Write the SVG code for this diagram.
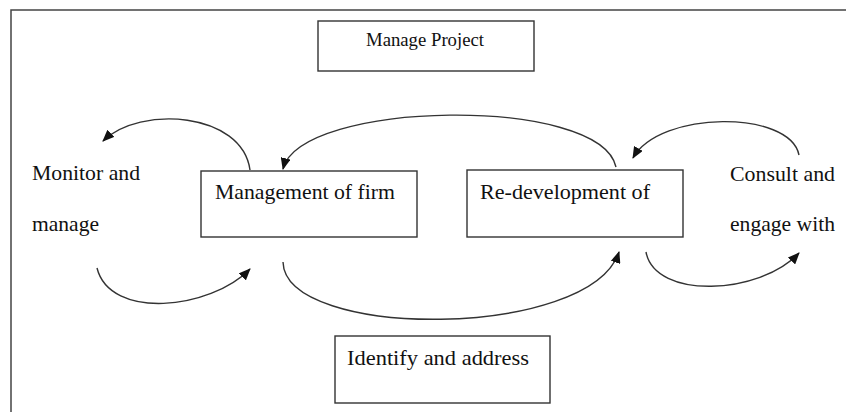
<svg xmlns="http://www.w3.org/2000/svg" width="846" height="412" viewBox="0 0 846 412">
<defs>
<style>
.box{fill:#fff;stroke:#333;stroke-width:1.4}
.frame{fill:none;stroke:#444;stroke-width:1.5}
.t{font-family:"Liberation Serif","Times New Roman",serif;font-size:22px;fill:#111}
.ts{font-size:19px}
.c{fill:none;stroke:#333;stroke-width:1.4;marker-end:url(#ah)}
</style>
<marker id="ah" markerUnits="userSpaceOnUse" markerWidth="12" markerHeight="10" viewBox="0 0 12 10" refX="11" refY="5" orient="auto">
<path d="M0,0 L12,5 L0,10 z" fill="#111"/>
</marker>
</defs>
<rect width="846" height="412" fill="#fff"/>
<path class="frame" d="M11,412 L11,10 L846,10"/>
<g id="manage-project">
<rect class="box" x="318" y="21" width="216" height="50"/>
<text class="t ts" x="366" y="46" textLength="118" lengthAdjust="spacingAndGlyphs">Manage Project</text>
</g>
<g id="monitor">
<text class="t" x="32" y="180" textLength="108" lengthAdjust="spacingAndGlyphs">Monitor and</text>
<text class="t" x="32" y="231" textLength="67" lengthAdjust="spacingAndGlyphs">manage</text>
</g>
<g id="management">
<rect class="box" x="201" y="171" width="216" height="66"/>
<text class="t" x="215" y="199" textLength="180" lengthAdjust="spacingAndGlyphs">Management of firm</text>
</g>
<g id="redevelopment">
<rect class="box" x="467" y="170" width="216" height="67"/>
<text class="t" x="480" y="199" textLength="170" lengthAdjust="spacingAndGlyphs">Re-development of</text>
</g>
<g id="consult">
<text class="t" x="730" y="181" textLength="105" lengthAdjust="spacingAndGlyphs">Consult and</text>
<text class="t" x="730" y="231" textLength="105" lengthAdjust="spacingAndGlyphs">engage with</text>
</g>
<g id="identify">
<rect class="box" x="335" y="336" width="215" height="67"/>
<text class="t" x="347" y="365" textLength="182" lengthAdjust="spacingAndGlyphs">Identify and address</text>
</g>
<g id="connectors">
<path class="c" d="M250,170 C242,112 140,105 103,141"/>
<path class="c" d="M616,167 C600,95 300,100 283,169"/>
<path class="c" d="M799,155 C790,110 660,110 633,158"/>
<path class="c" d="M97,268 C110,320 210,310 250,269"/>
<path class="c" d="M283,262 C285,340 590,340 619,252"/>
<path class="c" d="M646,252 C655,300 760,295 799,253"/>
</g>
</svg>
